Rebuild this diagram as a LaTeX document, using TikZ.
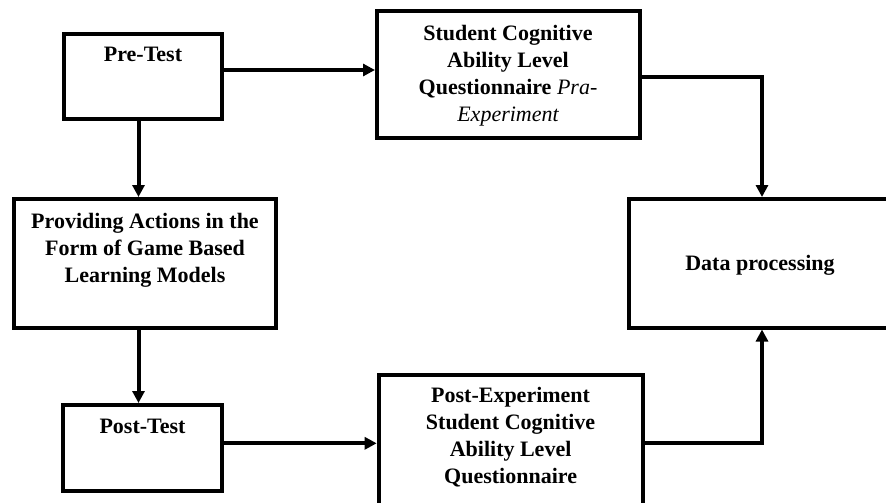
\documentclass[tikz,border=0pt]{standalone}
\usepackage{fontspec}
\setmainfont{Liberation Serif}
\usetikzlibrary{arrows.meta}
\begin{document}
\begin{tikzpicture}[x=1pt,y=-1pt,
  box/.style={draw,line width=4pt,inner sep=0pt,rectangle},
  txt/.style={font=\bfseries\fontsize{22}{27}\selectfont,align=center,anchor=base,inner sep=0pt},
  arr/.style={line width=4pt,-{Triangle[length=12pt,width=12pt]}}]
\useasboundingbox (0,0) rectangle (886,503);
\clip (0,0) rectangle (886,503);
\fill[white] (0,0) rectangle (886,503);
% boxes
\node[box,minimum width=158pt,minimum height=85pt] (pre) at (143,76.5) {};
\node[box,minimum width=262.5pt,minimum height=126.5pt] (stu) at (508.25,74.25) {};
\node[box,minimum width=262pt,minimum height=128.5pt] (prov) at (145,263.25) {};
\node[box,minimum width=159pt,minimum height=86pt] (post) at (142.5,448) {};
\node[box,minimum width=263.8pt,minimum height=164.7pt] (pe) at (510.6,457.6) {};
\node[box,minimum width=281pt,minimum height=128.5pt] (data) at (769.5,263.25) {};
% texts (base anchor = baseline of the last line)
\node[txt] (tpre) at (143,62) {Pre-Test};
\node[txt] (tstu) at (508,121) {Student Cognitive\\Ability Level\\Questionnaire {\mdseries\itshape Pra-}\\{\mdseries\itshape Experiment}};
\node[txt] (tprov) at (145,282) {Providing Actions in the\\Form of Game Based\\Learning Models};
\node[txt] (tpost) at (142.5,433) {Post-Test};
\node[txt] (tpe) at (510.6,483) {Post-Experiment\\Student Cognitive\\Ability Level\\Questionnaire};
\node[txt] (tdata) at (760,270) {Data processing};
% connectors
\coordinate (a1) at ([yshift=6.5pt]pre.east);
\draw[arr] (a1) -- (a1 -| stu.west);
\coordinate (a2) at ([xshift=-4.5pt]pre.south);
\draw[arr] (a2) -- (a2 |- prov.north);
\coordinate (a3) at ([xshift=-6.5pt]prov.south);
\draw[arr] (a3) -- (a3 |- post.north);
\coordinate (a4) at ([yshift=4.7pt]post.east);
\draw[arr] (a4) -- (a4 -| pe.west);
\coordinate (a5) at ([yshift=-2.5pt]stu.east);
\coordinate (d5) at ([xshift=-7.5pt]data.north);
\draw[arr] (a5) -| (d5);
\coordinate (a6) at ([yshift=14.6pt]pe.east);
\coordinate (d6) at ([xshift=-7.5pt]data.south);
\draw[arr] (a6) -| (d6);
\end{tikzpicture}
\end{document}
